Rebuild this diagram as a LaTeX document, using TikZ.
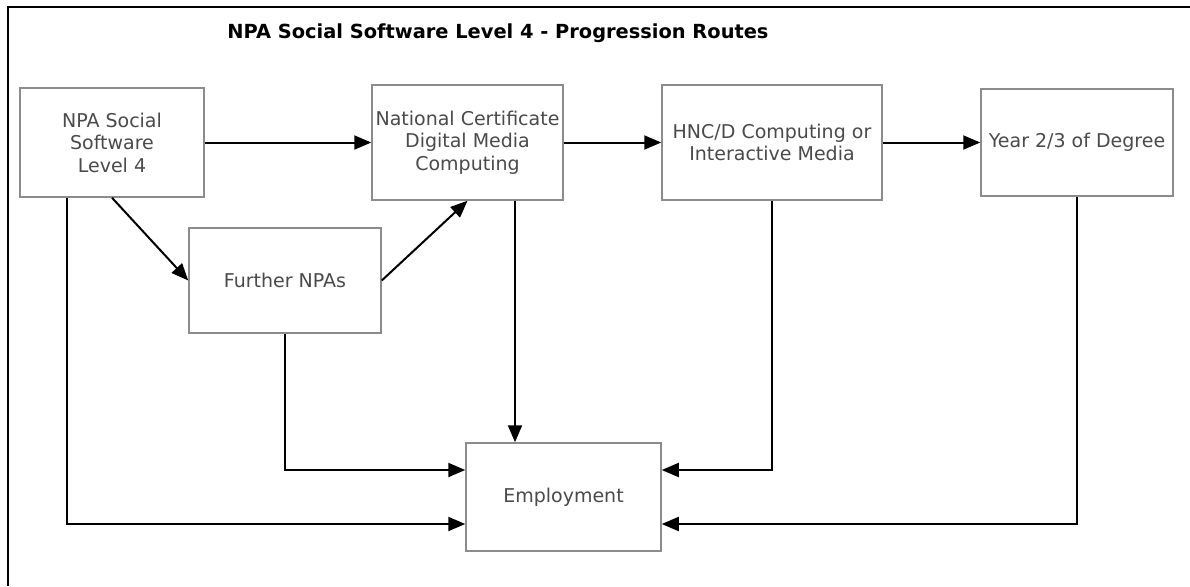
\documentclass[tikz,border=0pt]{standalone}
\usepackage{fontspec}
\setmainfont{DejaVu Sans}
\usetikzlibrary{arrows.meta}
\definecolor{boxline}{HTML}{8C8C8C}
\definecolor{txt}{HTML}{4A4A4A}
\tikzset{
  box/.style={draw=boxline, line width=1.5pt, fill=white, align=center, text=txt,
    font=\fontsize{19}{22.5}\selectfont, inner sep=0pt},
  arr/.style={draw=black, line width=2pt, -{Triangle[length=17pt,width=14pt]}},
  frameline/.style={draw=black, line width=1.8pt}
}
\begin{document}
\begin{tikzpicture}[x=1pt,y=-1pt]
\useasboundingbox (0,0) rectangle (1190,586);
\draw[frameline] (8,586) -- (8,7) -- (1190,7);
\node[font=\bfseries\fontsize{19.4}{24}\selectfont] (title) at (498,33) {NPA Social Software Level 4 - Progression Routes};
\node[box, minimum width=184pt, minimum height=109pt] (npa) at (112,142.5) {NPA Social\\Software\\Level 4};
\node[box, minimum width=191pt, minimum height=115pt] (nc) at (467.5,142.5) {National Certificate\\Digital Media\\Computing};
\node[box, minimum width=220pt, minimum height=115pt] (hnc) at (772,142.5) {HNC/D Computing or\\Interactive Media};
\node[box, minimum width=192pt, minimum height=107pt] (year) at (1077,142.5) {Year 2/3 of Degree};
\node[box, minimum width=192pt, minimum height=105pt] (further) at (285,280.5) {Further NPAs};
\node[box, minimum width=195pt, minimum height=108pt] (emp) at (563.5,497) {Employment};
\draw[arr] (npa) -- (nc);
\draw[arr] (nc) -- (hnc);
\draw[arr] (hnc) -- (year);
\draw[arr] (npa.south) -- (further.west);
\draw[arr] (further.east) -- (nc.south);
\draw[arr] ([xshift=47.5pt]nc.south) -- ([xshift=47.5pt]nc.south |- emp.north);
\draw[arr] (further.south) |- ([yshift=27pt]emp.west);
\draw[arr] ([xshift=-45pt]npa.south) |- ([yshift=-27pt]emp.west);
\draw[arr] (hnc.south) |- ([yshift=27pt]emp.east);
\draw[arr] (year.south) |- ([yshift=-27pt]emp.east);
\end{tikzpicture}
\end{document}
